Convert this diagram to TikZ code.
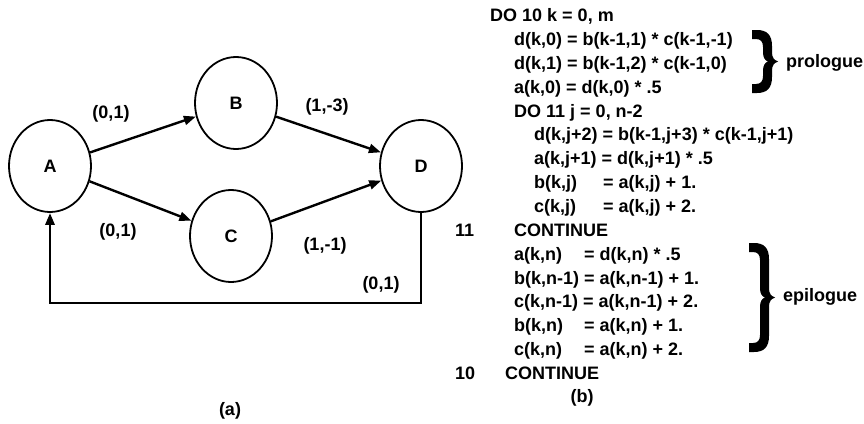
\documentclass[tikz,border=0pt]{standalone}
\usepackage{fontspec}
\setmainfont{Liberation Sans}
\usetikzlibrary{shapes.geometric,arrows.meta}

\tikzset{
  vertex/.style={ellipse,draw,line width=1.8pt,minimum width=82pt,minimum height=92pt,inner sep=0pt},
  dep/.style={-{Triangle[length=12pt,width=9pt]},line width=2.4pt},
  code/.style={anchor=base west,inner sep=0pt},
}

% filled curly brace: left x, top y, bottom y
\newcommand{\curlybrace}[3]{%
  \pgfmathsetmacro{\brtop}{#2}%
  \pgfmathsetmacro{\brbot}{#3}%
  \pgfmathsetmacro{\brmid}{(#2+#3)/2}%
  \begin{scope}[shift={(#1,0)}]
    \fill (0,\brtop) -- (5,\brtop) .. controls (15,\brtop) and (20,\brtop+5) .. (20,\brtop+16)
      -- (20,\brmid-9) .. controls (20,\brmid-4) and (22,\brmid-1.5) .. (26,\brmid)
      .. controls (22,\brmid+1.5) and (20,\brmid+4) .. (20,\brmid+9)
      -- (20,\brbot-16) .. controls (20,\brbot-5) and (15,\brbot) .. (5,\brbot) -- (0,\brbot)
      -- (0,\brbot-9) -- (4,\brbot-9) .. controls (9,\brbot-9) and (11,\brbot-12) .. (11,\brbot-17)
      -- (11,\brmid+9) .. controls (11,\brmid+4) and (13,\brmid+1) .. (16,\brmid)
      .. controls (13,\brmid-1) and (11,\brmid-4) .. (11,\brmid-9)
      -- (11,\brtop+17) .. controls (11,\brtop+12) and (9,\brtop+9) .. (4,\brtop+9) -- (0,\brtop+9) -- cycle;
  \end{scope}}

\begin{document}
\begin{tikzpicture}[x=1pt,y=-1pt,font=\fontsize{18}{21}\selectfont\bfseries]
    \useasboundingbox (0,0) rectangle (864,423);
    % dependence graph
    \node[vertex] (A) at (50,166) {A};
    \node[vertex] (B) at (236,103) {B};
    \node[vertex] (C) at (231,236) {C};
    \node[vertex] (D) at (421,166) {D};
    \draw[dep] (A) -- (B);
    \draw[dep] (A) -- (C);
    \draw[dep] (B) -- (D);
    \draw[dep] (C) -- (D);
    \draw[dep,line width=2.8pt] (D.south) -- ++(0,90) -| (A.south);
    \node (ab) at (111,114) {(0,1)};
    \node (ac) at (118,232) {(0,1)};
    \node (bd) at (327,107) {(1,-3)};
    \node (cd) at (325,246) {(1,-1)};
    \node (da) at (381,285) {(0,1)};
    \node (capa) at (230,411) {(a)};
    % loop code
    \node[code] (l0) at (490,21.5) {DO 10 k = 0, m};
    \node[code] (l1) at (514,45.4) {d(k,0) = b(k-1,1) * c(k-1,-1)};
    \node[code] (l2) at (514,69.2) {d(k,1) = b(k-1,2) * c(k-1,0)};
    \node[code] (l3) at (514,93.1) {a(k,0) = d(k,0) * .5};
    \node[code] (l4) at (514,117) {DO 11 j = 0, n-2};
    \node[code] (l5) at (534,140.9) {d(k,j+2) = b(k-1,j+3) * c(k-1,j+1)};
    \node[code] (l6) at (534,164.7) {a(k,j+1) = d(k,j+1) * .5};
    \node[code] (l7) at (534,188.6) {\makebox[64pt][l]{b(k,j)} = a(k,j) + 1.};
    \node[code] (l8) at (534,212.5) {\makebox[64pt][l]{c(k,j)} = a(k,j) + 2.};
    \node[code] (n11) at (455,236.3) {11};
    \node[code] (l9) at (514,236.3) {CONTINUE};
    \node[code] (l10) at (514,260.2) {\makebox[65pt][l]{a(k,n)} = d(k,n) * .5};
    \node[code] (l11) at (514,284.1) {b(k,n-1) = a(k,n-1) + 1.};
    \node[code] (l12) at (514,307.9) {c(k,n-1) = a(k,n-1) + 2.};
    \node[code] (l13) at (514,331.8) {\makebox[65pt][l]{b(k,n)} = a(k,n) + 1.};
    \node[code] (l14) at (514,355.7) {\makebox[65pt][l]{c(k,n)} = a(k,n) + 2.};
    \node[code] (n10) at (455,379.6) {10};
    \node[code] (l15) at (505,379.6) {CONTINUE};
    \node (capb) at (582,398) {(b)};
    % braces
    \curlybrace{752}{30}{93}
    \node[anchor=west,inner sep=0pt] (pro) at (786,63) {prologue};
    \curlybrace{749}{243}{352}
    \node[anchor=west,inner sep=0pt] (epi) at (783,297) {epilogue};
\end{tikzpicture}
\end{document}
